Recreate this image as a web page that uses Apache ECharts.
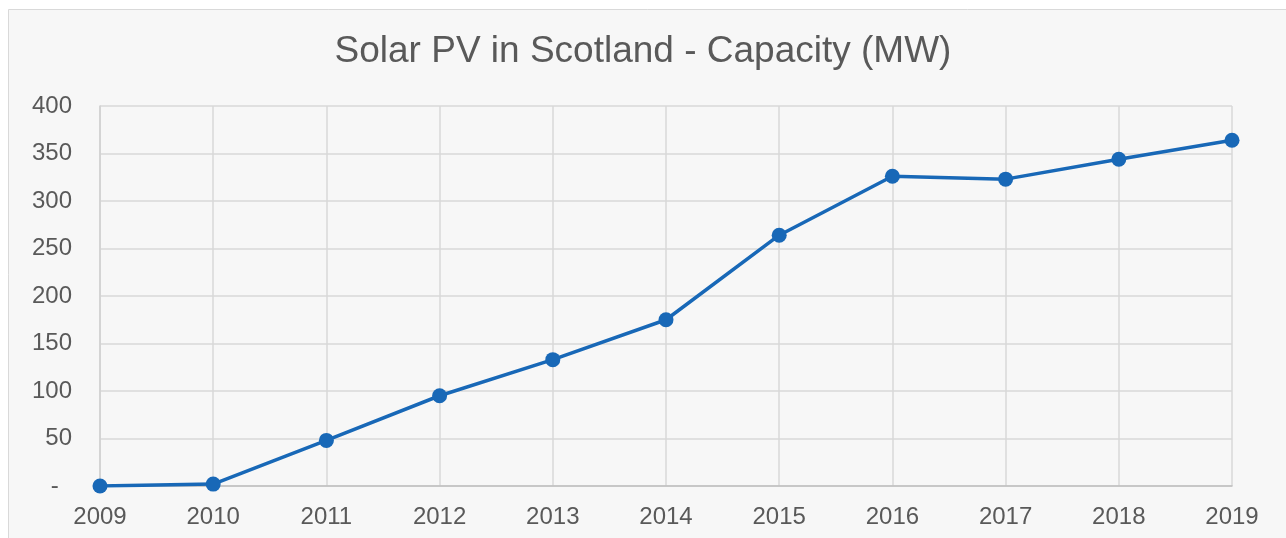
<!DOCTYPE html>
<html><head><meta charset="utf-8">
<script src="https://cdn.jsdelivr.net/npm/echarts@6/dist/echarts.min.js"></script>
<style>html,body{margin:0;padding:0;background:#fff;}#c{width:1286px;height:538px;}</style>
</head><body><div id="c"></div>
<script>
const years = ['2009','2010','2011','2012','2013','2014','2015','2016','2017','2018','2019'];
const capacity = [0, 2, 48, 95, 133, 175, 264, 326, 323, 344, 364];
const yTicks = [0, 50, 100, 150, 200, 250, 300, 350, 400];

const chart = echarts.init(document.getElementById('c'), null, {renderer: 'canvas'});
chart.setOption({
  backgroundColor: '#ffffff',
  animation: false,
  graphic: [{
    type: 'rect', z: -10, silent: true,
    shape: {x: 8.5, y: 9.5, width: 1290, height: 540},
    style: {fill: '#f7f7f7', stroke: '#d9d9d9', lineWidth: 1}
  }],
  title: {
    text: 'Solar PV in Scotland - Capacity (MW)',
    left: 'center', top: 28,
    textStyle: {fontFamily: 'Liberation Sans', fontSize: 37, fontWeight: 'normal', color: '#595959'}
  },
  grid: {left: 100, right: 54, top: 106, bottom: 52},
  xAxis: {
    type: 'category', data: years, boundaryGap: false,
    axisLine: {lineStyle: {color: '#bfbfbf', width: 1.5}},
    axisTick: {show: false},
    axisLabel: {fontFamily: 'Liberation Sans', fontSize: 24, color: '#595959', margin: 19},
    splitLine: {show: true, lineStyle: {color: '#d9d9d9', width: 1.5}}
  },
  yAxis: {
    type: 'value', min: yTicks[0], max: yTicks[yTicks.length-1], interval: 50,
    axisLine: {show: true, lineStyle: {color: '#d0d0d0', width: 1.5}},
    axisTick: {show: false},
    axisLabel: {fontFamily: 'Liberation Sans', fontSize: 24, color: '#595959', margin: 28,
      formatter: v => v === 0 ? '-  ' : String(v)},
    splitLine: {lineStyle: {color: '#d9d9d9', width: 1.5}}
  },
  series: [{
    type: 'line', data: capacity,
    symbol: 'circle', symbolSize: 15,
    lineStyle: {color: '#1868b7', width: 3.5},
    itemStyle: {color: '#1868b7'}
  }]
});
</script></body></html>
